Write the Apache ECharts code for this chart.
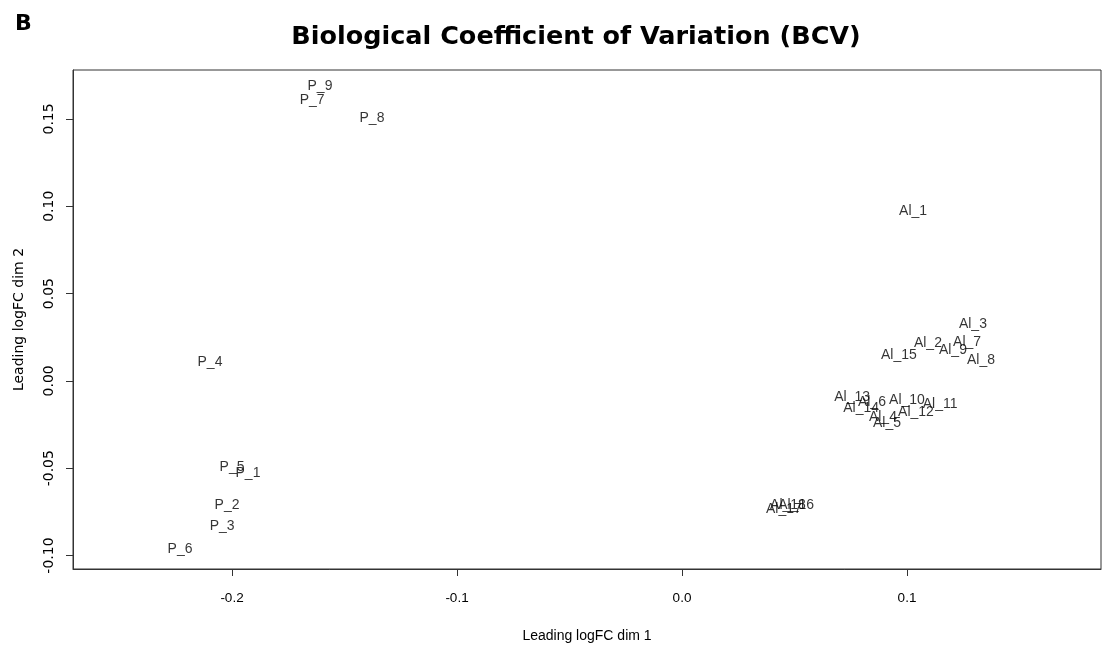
<!DOCTYPE html>
<html>
<head>
<meta charset="utf-8">
<script src="https://cdn.jsdelivr.net/npm/echarts@6/dist/echarts.min.js"></script>
<style>html,body{margin:0;padding:0;background:#fff}#c{width:1115px;height:648px}</style>
</head>
<body>
<div id="c"></div>
<script>
const sampleNames = ["P_9","P_7","P_8","P_4","P_5","P_1","P_2","P_3","P_6",
  "Al_1","Al_2","Al_3","Al_4","Al_5","Al_6","Al_7","Al_8","Al_9","Al_10",
  "Al_11","Al_12","Al_13","Al_14","Al_15","Al_16","Al_17","Al_18"];
const dim1 = [-0.1609,-0.1644,-0.1378,-0.2098,-0.2000,-0.1929,-0.2022,-0.2044,-0.2231,
  0.1027,0.1093,0.1293,0.0893,0.0911,0.0844,0.1267,0.1329,0.1204,0.1000,
  0.1147,0.1040,0.0756,0.0796,0.0964,0.0507,0.0453,0.0471];
const dim2 = [0.1686,0.1606,0.1503,0.0109,-0.0491,-0.0526,-0.0714,-0.0834,-0.0966,
  0.0971,0.0217,0.0326,-0.0206,-0.0240,-0.0120,0.0223,0.0120,0.0177,-0.0109,
  -0.0131,-0.0177,-0.0091,-0.0154,0.0149,-0.0714,-0.0737,-0.0709];
const xTicks = [-0.2,-0.1,0.0,0.1];
const yTicks = [-0.10,-0.05,0.00,0.05,0.10,0.15];

const data = sampleNames.map((n,i)=>({name:n,value:[dim1[i],dim2[i]]}));
const chart = echarts.init(document.getElementById('c'));
const FONT = '"Liberation Sans", Arial, sans-serif';
const RFONT = '"DejaVu Sans", sans-serif';
chart.setOption({
  animation:false,
  backgroundColor:'#fff',
  title:[
    {text:'Biological Coefficient of Variation (BCV)',left:571,top:19,textAlign:'center',
     textStyle:{fontFamily:'"DejaVu Sans"',fontWeight:'bold',fontSize:25.5,color:'#000'}},
    {text:'B',left:10,top:8,textStyle:{fontFamily:'"DejaVu Sans"',fontWeight:'bold',fontSize:22,color:'#000'}}
  ],
  grid:{left:73,right:14,top:70,bottom:78,show:true,borderColor:'#333',borderWidth:1,backgroundColor:'transparent'},
  xAxis:{type:'value',min:-0.27067,max:0.18622,
    name:'Leading logFC dim 1',nameLocation:'middle',nameGap:60,
    nameTextStyle:{fontFamily:FONT,fontSize:14,color:'#000'},
    axisLine:{show:true,onZero:false,lineStyle:{color:'#333'}},
    axisTick:{show:true,length:7,customValues:xTicks,lineStyle:{color:'#333'}},
    axisLabel:{customValues:xTicks,margin:22,fontFamily:FONT,fontSize:13.5,color:'#000',
      formatter:v=>v.toFixed(1)},
    splitLine:{show:false}},
  yAxis:{type:'value',min:-0.1077,max:0.178,
    name:'Leading logFC dim 2',nameLocation:'middle',nameGap:47,
    nameTextStyle:{fontFamily:RFONT,fontSize:14,color:'#000'},
    axisLine:{show:true,onZero:false,lineStyle:{color:'#333'}},
    axisTick:{show:true,length:7,customValues:yTicks,lineStyle:{color:'#333'}},
    axisLabel:{customValues:yTicks,rotate:90,margin:17,fontFamily:RFONT,fontSize:14,color:'#000',
      formatter:v=>v.toFixed(2)},
    splitLine:{show:false}},
  series:[{type:'scatter',data:data,symbolSize:1,itemStyle:{color:'rgba(0,0,0,0)'},
    label:{show:true,position:'inside',formatter:p=>p.name,fontFamily:FONT,fontSize:14,color:'#000'},
    labelLayout:{hideOverlap:false}}]
});
</script>
</body>
</html>
